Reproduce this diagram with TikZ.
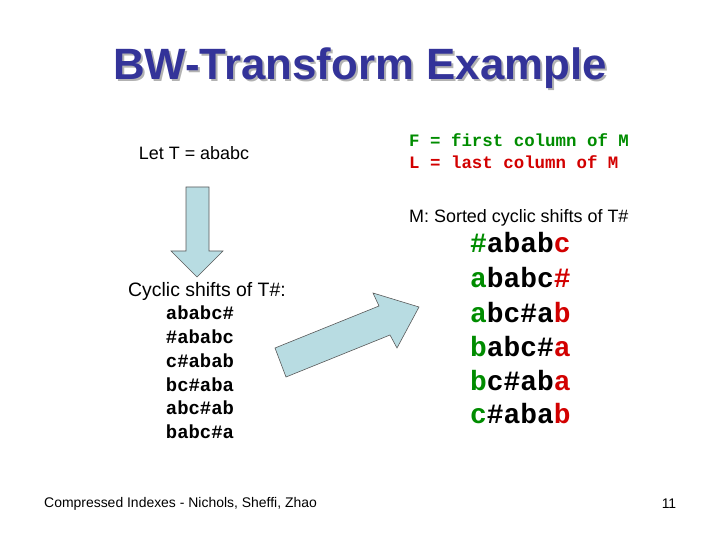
\documentclass[tikz,border=0pt]{standalone}
\usepackage{fontspec}
\setmainfont{Liberation Sans}
\newfontfamily\monof{Liberation Mono}
\definecolor{navy}{RGB}{51,51,153}
\definecolor{gr}{RGB}{0,140,0}
\definecolor{rd}{RGB}{210,0,0}
\definecolor{arrfill}{RGB}{184,220,226}
\begin{document}
\begin{tikzpicture}[x=1bp,y=-1bp,
  sans/.style={font=\fontsize{18}{21}\selectfont,inner sep=0pt},
  big/.style={font=\monof\bfseries\fontsize{28}{30}\selectfont,inner sep=0pt,anchor=west},
  small/.style={font=\monof\bfseries\fontsize{19}{22}\selectfont,inner sep=0pt},
  fl/.style={font=\monof\bfseries\fontsize{17.5}{20}\selectfont,inner sep=0pt,anchor=west},
  arr/.style={fill=arrfill,draw=gray!70!black,line width=0.6pt}]
\useasboundingbox (0,0) rectangle (720,540);
\node[font=\bfseries\fontsize{44}{48}\selectfont,text=gray!60,inner sep=0pt] at (362,70) {BW-Transform Example};
\node[font=\bfseries\fontsize{44}{48}\selectfont,text=navy,inner sep=0pt] (title) at (360,68) {BW-Transform Example};
\node[sans] (let) at (194,153) {Let T = ababc};
\node[fl,text=gr] (F) at (409,140) {F = first column of M};
\node[fl,text=rd] (L) at (409,162) {L = last column of M};
\node[sans,anchor=west] (Mlab) at (409,218) {M: Sorted cyclic shifts of T\#};
\draw[arr] (186,187) -- (209,187) -- (209,251) -- (223,251) -- (197,277) -- (171,251) -- (186,251) -- cycle;
\draw[arr] (275,348) -- (379,306) -- (373,293) -- (419,307) -- (397,348) -- (390,335) -- (286,377) -- cycle;
\node[sans,font=\fontsize{19.5}{22}\selectfont] (cyc) at (207,291) {Cyclic shifts of T\#:};
\foreach \s [count=\i] in {ababc\#,\#ababc,c\#abab,bc\#aba,abc\#ab,babc\#a}
  \node[small] (c\i) at (200,313+23.8*\i-23.8) {\s};
\node[big] (m1) at (470,243) {\textcolor{gr}{\#}abab\textcolor{rd}{c}};
\node[big] (m2) at (470,278) {\textcolor{gr}{a}babc\textcolor{rd}{\#}};
\node[big] (m3) at (470,313) {\textcolor{gr}{a}bc\#a\textcolor{rd}{b}};
\node[big] (m4) at (470,347) {\textcolor{gr}{b}abc\#\textcolor{rd}{a}};
\node[big] (m5) at (470,381) {\textcolor{gr}{b}c\#ab\textcolor{rd}{a}};
\node[big] (m6) at (470,414) {\textcolor{gr}{c}\#aba\textcolor{rd}{b}};
\node[font=\fontsize{14}{16}\selectfont,inner sep=0pt,anchor=west] (foot) at (44,504) {Compressed Indexes - Nichols, Sheffi, Zhao};
\node[font=\fontsize{14}{16}\selectfont,inner sep=0pt] (pg) at (669,504) {11};
\end{tikzpicture}
\end{document}
